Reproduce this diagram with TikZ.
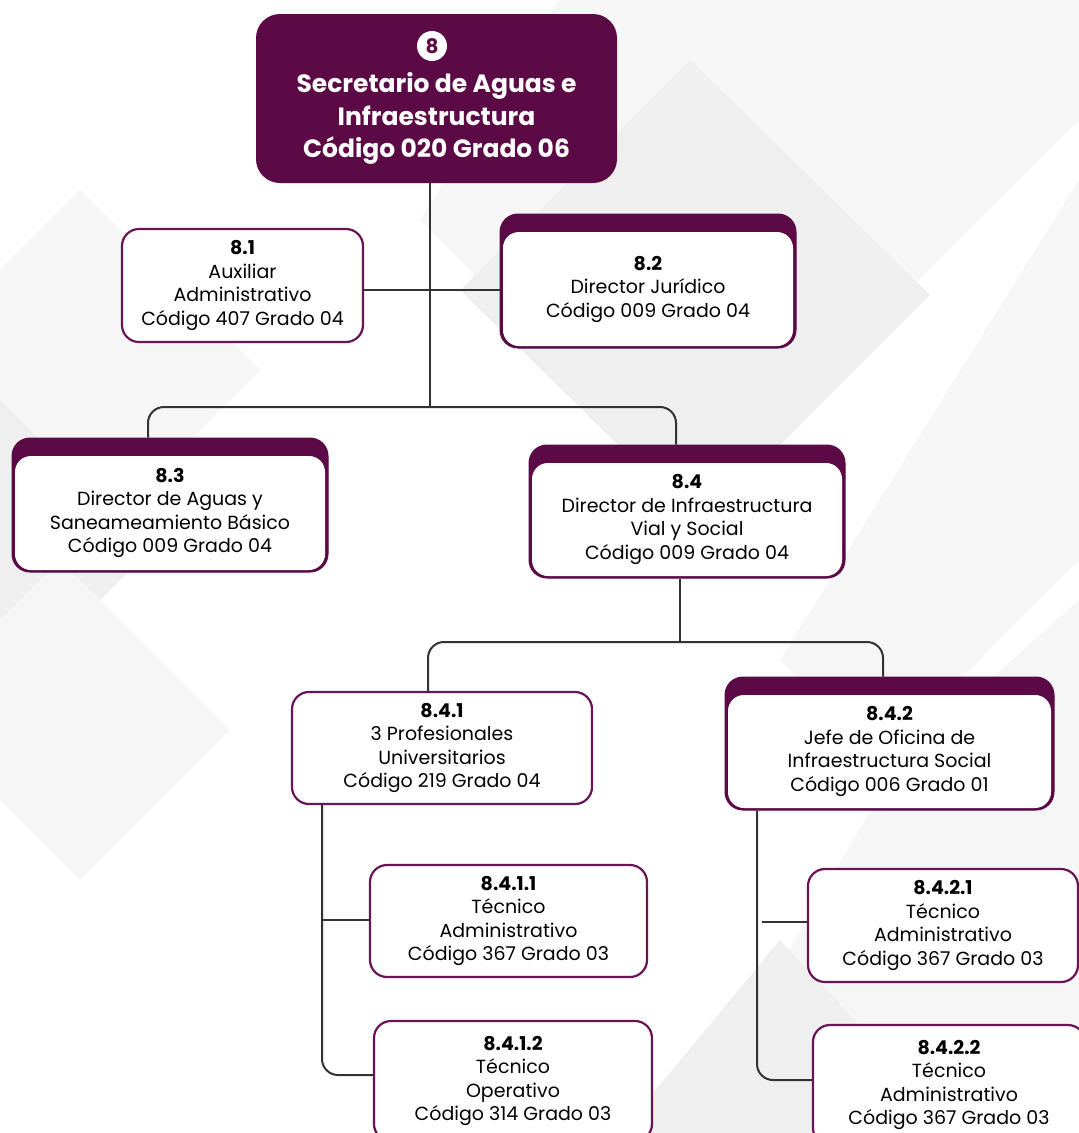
\documentclass[tikz,border=0pt]{standalone}
\usepackage{fontspec}
\setmainfont{Poppins}
\definecolor{pur}{RGB}{92,10,70}
\definecolor{bord}{RGB}{105,20,85}
\definecolor{lnc}{RGB}{50,50,50}
\definecolor{bgA}{RGB}{246,246,246}
\definecolor{bgB}{RGB}{239,239,239}
\tikzset{
  plainbox/.style={draw=bord, line width=2.2pt, fill=white, rounded corners=17pt, inner sep=0pt, align=center, font=\fontsize{19}{23.5}\selectfont},
  headout/.style={draw=pur, fill=pur, line width=1pt, rounded corners=18pt, inner sep=0pt},
  headin/.style={fill=white, rounded corners=16pt, inner sep=0pt, align=center, font=\fontsize{19}{23.5}\selectfont},
  topbox/.style={fill=pur, rounded corners=24pt, inner sep=0pt, align=center, text=white, font=\fontsize{25}{32.5}\selectfont\bfseries},
  conn/.style={draw=lnc, line width=2pt, rounded corners=16pt},
}
\begin{document}
\begin{tikzpicture}[x=1pt,y=-1pt]
\useasboundingbox (0,0) rectangle (1079,1133);
\begin{scope}
\clip (0,0) rectangle (1079,1133);
\fill[white] (0,0) rectangle (1079,1133);
% background decorations
\fill[bgA] (560,0) -- (1079,0) -- (1079,120) -- (700,500) -- (420,220) -- cycle;
\fill[bgB] (690,60) -- (930,295) -- (700,525) -- (460,290) -- cycle;
\fill[bgA] (1079,180) -- (1079,560) -- (880,760) -- (780,660) -- cycle;
\fill[bgA] (80,190) -- (260,370) -- (110,520) -- (-70,340) -- cycle;
\fill[bgB] (0,400) -- (150,550) -- (0,700) -- cycle;
\fill[bgA] (60,560) -- (230,730) -- (80,880) -- (-90,710) -- cycle;
\fill[bgA] (900,760) -- (1079,600) -- (1079,1133) -- (700,1133) -- (760,1000) -- cycle;
\fill[bgB] (780,940) -- (960,1133) -- (620,1133) -- cycle;
\end{scope}

% top box
\node[topbox, minimum width=361pt, minimum height=169pt] (top) at (436.5,98.5) {};
\node[circle, fill=white, minimum size=30pt, inner sep=0pt, text=pur, font=\fontsize{20}{20}\selectfont\bfseries] (c8) at (432,46) {8};
\node[align=center, text=white, font=\fontsize{25}{32.5}\selectfont\bfseries] (toptxt) at (436.5,118.5) {Secretario de Aguas e\\Infraestructura\\Código 020 Grado 06};

% 8.1
\node[plainbox, minimum width=241pt, minimum height=113pt] (b81) at (242.5,285.5) {\textbf{8.1}\\Auxiliar\\Administrativo\\Código 407 Grado 04};

% 8.2 (header)
\node[headout, minimum width=296pt, minimum height=134pt] (b82) at (648,281) {};
\node[headin, minimum width=290pt, minimum height=114pt] (b82t) at (648,289) {\textbf{8.2}\\Director Jurídico\\Código 009 Grado 04};

% 8.3
\node[headout, minimum width=316pt, minimum height=134pt] (b83) at (170,505) {};
\node[headin, minimum width=310pt, minimum height=114pt] (b83t) at (170,513) {\textbf{8.3}\\Director de Aguas y\\Saneameamiento Básico\\Código 009 Grado 04};

% 8.4
\node[headout, minimum width=316pt, minimum height=133pt] (b84) at (687,511.5) {};
\node[headin, minimum width=310pt, minimum height=113pt] (b84t) at (687,519.5) {\textbf{8.4}\\Director de Infraestructura\\Vial y Social\\Código 009 Grado 04};

% 8.4.1
\node[plainbox, minimum width=300pt, minimum height=112pt] (b841) at (442,748) {\textbf{8.4.1}\\3 Profesionales\\Universitarios\\Código 219 Grado 04};

% 8.4.2
\node[headout, minimum width=329pt, minimum height=133pt] (b842) at (889.5,743.5) {};
\node[headin, minimum width=323pt, minimum height=113pt] (b842t) at (889.5,751.5) {\textbf{8.4.2}\\Jefe de Oficina de\\Infraestructura Social\\Código 006 Grado 01};

% 8.4.1.1 / 8.4.1.2
\node[plainbox, minimum width=277pt, minimum height=112pt] (b8411) at (508.5,921) {\textbf{8.4.1.1}\\Técnico\\Administrativo\\Código 367 Grado 03};
\node[plainbox, minimum width=278pt, minimum height=120pt] (b8412) at (513,1081) {\textbf{8.4.1.2}\\Técnico\\Operativo\\Código 314 Grado 03};

% 8.4.2.1 / 8.4.2.2
\node[plainbox, minimum width=270pt, minimum height=113pt] (b8421) at (943,925.5) {\textbf{8.4.2.1}\\Técnico\\Administrativo\\Código 367 Grado 03};
\node[plainbox, minimum width=272pt, minimum height=120pt] (b8422) at (949,1085) {\textbf{8.4.2.2}\\Técnico\\Administrativo\\Código 367 Grado 03};

% connectors
\coordinate (j1) at (430,407);
\draw[conn] (top.south -| j1) -- (j1);
\draw[conn] (b81.east |- 0,290) -- (b82.west |- 0,290);
\draw[conn] (b83.north -| 148,0) -- (148,407) -- (676,407) -- (b84.north -| 676,0);
\draw[conn] (b84.south -| 680,0) -- (680,642);
\draw[conn] (b841.north -| 428,0) -- (428,642) -- (883,642) -- (b842.north -| 883,0);
\draw[conn] (b841.south -| 322,0) -- (322,1075) -- (b8412.west |- 0,1075);
\draw[conn] (322,920) -- (b8411.west |- 0,920);
\draw[conn] (b842.south -| 757,0) -- (757,1080) -- (b8422.west |- 0,1080);
\draw[conn] (762,922) -- (b8421.west |- 0,922);
\end{tikzpicture}
\end{document}
